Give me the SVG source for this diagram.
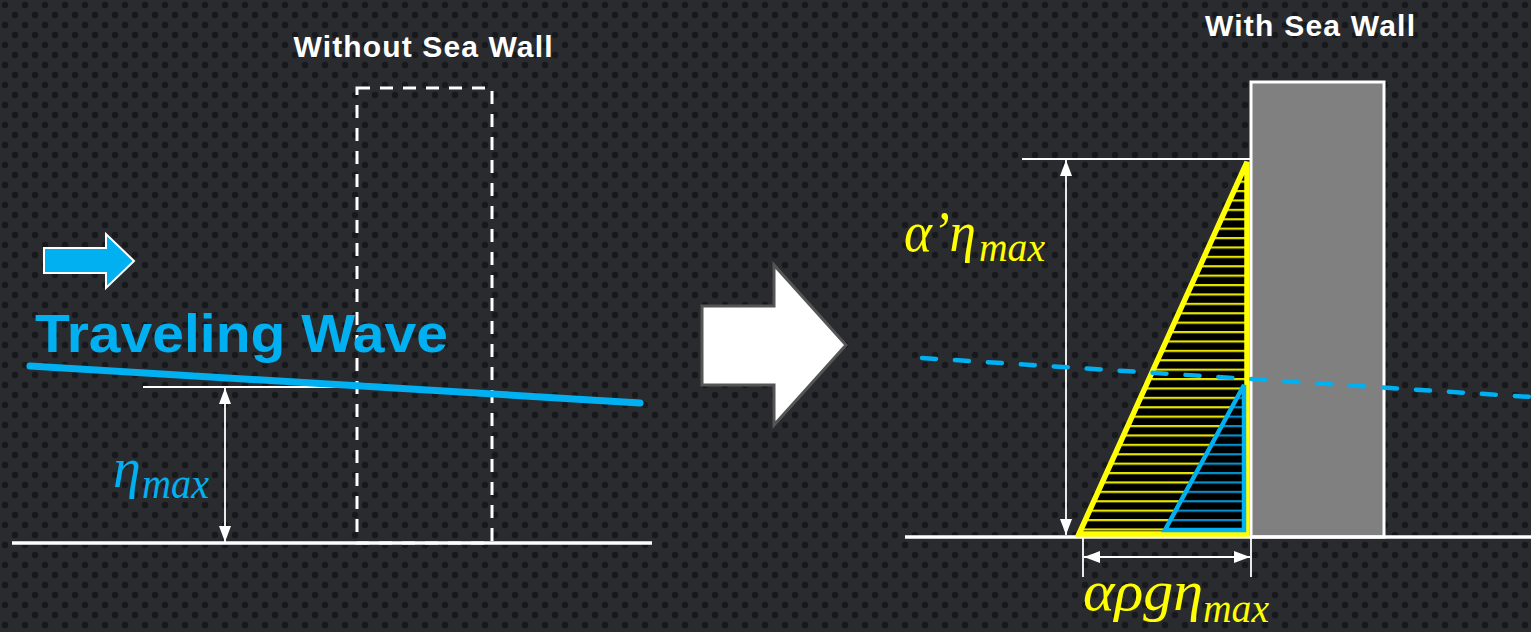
<svg xmlns="http://www.w3.org/2000/svg" width="1531" height="632" viewBox="0 0 1531 632">
<style>
.title{font-family:"Liberation Sans",Arial,sans-serif;font-weight:bold;fill:#ffffff;}
.wave{font-family:"Liberation Sans",Arial,sans-serif;font-weight:bold;fill:#00B0F0;}
.math{font-family:"Liberation Serif","Times New Roman",serif;font-style:italic;}
.blue{fill:#00B0F0;}
.yel{fill:#FFFF00;}
.thin{stroke:#ffffff;stroke-width:1.8;fill:none;}
.dim{stroke:#ffffff;stroke-width:1.8;fill:none;marker-start:url(#ah);marker-end:url(#ah);}
</style>
<defs>
<pattern id="dots" width="20" height="20" patternUnits="userSpaceOnUse">
<rect width="20" height="20" fill="#2a2b2f"/>
<circle cx="5" cy="5" r="3.2" fill="#17181b"/>
<circle cx="15" cy="15" r="3.2" fill="#17181b"/>
</pattern>
<pattern id="yhatch" width="20" height="9.4" patternUnits="userSpaceOnUse" y="2">
<rect width="20" height="9.4" fill="#000000"/>
<rect y="0" width="20" height="2.2" fill="#e6e600"/>
</pattern>
<pattern id="bhatch" width="20" height="9.4" patternUnits="userSpaceOnUse" y="2">
<rect width="20" height="9.4" fill="#000000"/>
<rect y="0" width="20" height="2.2" fill="#0a8fcc"/>
</pattern>
<marker id="ah" viewBox="0 0 16 12" markerWidth="16" markerHeight="12" refX="16" refY="6" orient="auto-start-reverse" markerUnits="userSpaceOnUse">
<path d="M0,0 L16,6 L0,12 Z" fill="#ffffff"/>
</marker>
</defs>
<rect width="1531" height="632" fill="url(#dots)"/>

<!-- LEFT PANEL -->
<g id="title-without">
<text class="title" x="423" y="57" font-size="30" text-anchor="middle" textLength="259" lengthAdjust="spacing">Without Sea Wall</text>
</g>
<g id="dashed-wall">
<rect x="357" y="88" width="135" height="455" fill="none" stroke="#ffffff" stroke-width="3" stroke-dasharray="13 10"/>
</g>
<g id="ground-left">
<line x1="12" y1="543" x2="652" y2="543" stroke="#ffffff" stroke-width="3.5"/>
</g>
<g id="small-arrow">
<path d="M44,248 H106 V234 L134,261 L106,288 V273 H44 Z" class="blue" stroke="#ffffff" stroke-width="2"/>
</g>
<g id="traveling-wave-label">
<text class="wave" x="35" y="352" font-size="54" textLength="413" lengthAdjust="spacingAndGlyphs">Traveling Wave</text>
</g>
<g id="eta-ref-line">
<line x1="143" y1="387" x2="360" y2="387" class="thin"/>
</g>
<g id="wave-line">
<line x1="30" y1="366" x2="640" y2="403" stroke="#00B0F0" stroke-width="7" stroke-linecap="round"/>
</g>
<g id="eta-label">
<text class="math blue" x="113" y="487" font-size="56">η</text>
<text class="math blue" x="142" y="498" font-size="44" textLength="67" lengthAdjust="spacingAndGlyphs">max</text>
</g>

<!-- BIG ARROW -->
<g id="big-arrow">
<path d="M702,306 H774 V265 L846,345 L774,425 V385 H702 Z" fill="#ffffff" stroke="#555555" stroke-width="3"/>
</g>

<!-- RIGHT PANEL -->
<g id="title-with">
<text class="title" x="1310" y="36" font-size="30" text-anchor="middle" textLength="210" lengthAdjust="spacing">With Sea Wall</text>
</g>
<g id="sea-wall">
<rect x="1251" y="82" width="133" height="455" fill="#808080" stroke="#ffffff" stroke-width="3"/>
</g>
<g id="ground-right">
<line x1="905" y1="537" x2="1531" y2="537" stroke="#ffffff" stroke-width="3.5"/>
</g>
<g id="yellow-pressure">
<polygon points="1079,534 1247,162 1247,534" fill="url(#yhatch)" stroke="#FFFF00" stroke-width="5.5" stroke-linejoin="miter"/>
</g>
<g id="blue-pressure">
<polygon points="1165,530 1244,385 1244,530" fill="url(#bhatch)" stroke="#00B0F0" stroke-width="4.5"/>
</g>
<g id="connectors">
<line x1="1022" y1="159" x2="1250" y2="159" class="thin"/>
<line x1="1066" y1="160" x2="1066" y2="535" class="dim"/>
<line x1="225" y1="388" x2="225" y2="542" class="dim"/>
<line x1="1083" y1="537" x2="1083" y2="577" class="thin"/>
<line x1="1251" y1="537" x2="1251" y2="577" class="thin"/>
<line x1="1084" y1="557" x2="1250" y2="557" class="dim"/>
</g>
<g id="dashed-wave">
<line x1="922" y1="358" x2="1531" y2="397" stroke="#00B0F0" stroke-width="4.5" stroke-linecap="round" stroke-dasharray="14 19"/>
</g>
<g id="alpha-prime-label">
<text class="math yel" x="904" y="251" font-size="56" textLength="72" lengthAdjust="spacingAndGlyphs">α’η</text>
<text class="math yel" x="979" y="261" font-size="42" textLength="66" lengthAdjust="spacingAndGlyphs">max</text>
</g>
<g id="alpha-rho-label">
<text class="math yel" x="1083" y="610" font-size="56" textLength="120" lengthAdjust="spacingAndGlyphs">αρgη</text>
<text class="math yel" x="1203" y="622" font-size="40" textLength="66" lengthAdjust="spacingAndGlyphs">max</text>
</g>
</svg>
